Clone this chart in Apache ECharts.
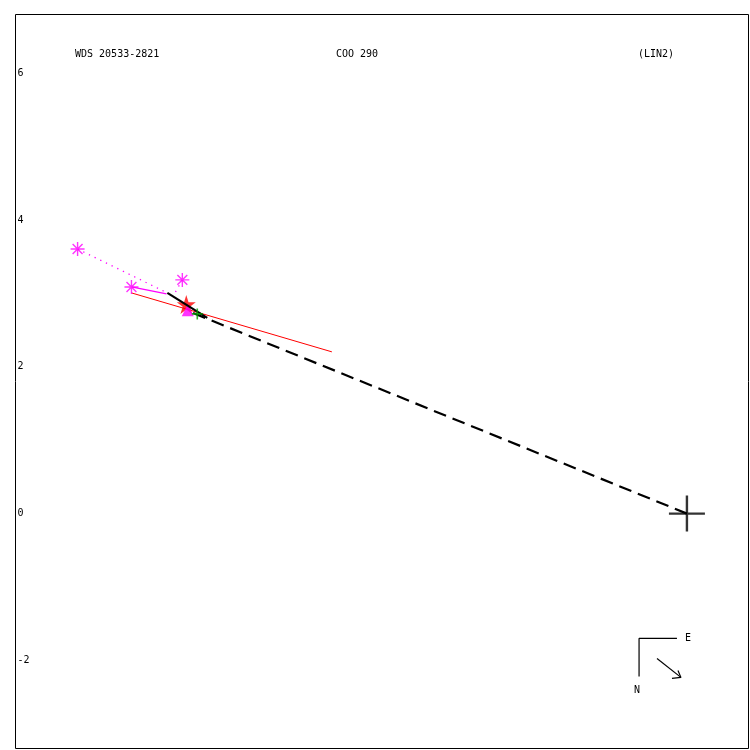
<!DOCTYPE html>
<html>
<head>
<meta charset="utf-8">
<script src="https://cdn.jsdelivr.net/npm/echarts@6/dist/echarts.min.js"></script>
<style>html,body{margin:0;padding:0;background:#fff}#c{width:750px;height:750px}</style>
</head>
<body>
<div id="c"></div>
<script>
// ---- data (arcsec offsets; primary at origin) ----
const titleTexts = ['WDS 20533-2821', 'COO 290', '(LIN2)'];
const yTickValues = [-2, 0, 2, 4, 6];
const measuredX = [-8.313, -7.578, -6.884];
const measuredY = [3.605, 3.088, 3.184];
const predictedX = [-7.088, -7.100, -7.007];
const predictedY = [3.007, 2.993, 2.966];
const residualTypes = ['dotted', 'solid', 'dotted'];
const fitLineX = [-7.578, -4.844];
const fitLineY = [3.007, 2.204];
const orbitX = [-7.088, -6.544];
const orbitY = [3.007, 2.667];
const nodeLineX = [0, -6.776];
const nodeLineY = [0, 2.748];
const primaryPos = [0, 0];
const redStarPos = [-6.830, 2.850];
const magentaTriPos = [-6.810, 2.770];
const greenPlusPos = [-6.680, 2.721];
const compassArmsX = [-0.136, -0.653, -0.653];
const compassArmsY = [-1.701, -1.701, -2.218];
const compassArrowX = [-0.408, -0.082];
const compassArrowY = [-1.973, -2.231];
const arrowHeadX = [-0.204, -0.082, -0.122];
const arrowHeadY = [-2.245, -2.231, -2.136];

const zip = (xs, ys) => xs.map((x, i) => [x, ys[i]]);
const FONT = 'DejaVu Sans Mono';
const txt = {fontSize: 10, fontFamily: FONT, fontWeight: 'normal', color: '#000'};

const asterisk = 'path://M0,6.5L13,6.5M6.5,0L6.5,13M1.9,1.9L11.1,11.1M11.1,1.9L1.9,11.1';
const plus = 'path://M0,5L10,5M5,0L5,10';
const bigPlus = 'path://M0,18L36,18M18,0L18,36';
const star = 'path://M50,0L61.17,34.63L97.55,34.55L68.07,55.87L79.39,90.45L50,69L20.61,90.45L31.93,55.87L2.45,34.55L38.83,34.63Z';

const lineSeries = (data, color, width, type, z) => ({
  type: 'line', data, showSymbol: false, symbol: 'none', silent: true, animation: false,
  lineStyle: {color, width, type}, z: z || 2
});

const series = [];
series.push(lineSeries(zip(fitLineX, fitLineY), '#ff0000', 1, 'solid', 2));
measuredX.forEach((x, i) => {
  series.push(lineSeries([[x, measuredY[i]], [predictedX[i], predictedY[i]]], '#ff00ff', 1.3,
    residualTypes[i] === 'dotted' ? [1.3, 5] : 'solid', 3));
});
series.push({type: 'scatter', data: zip(measuredX, measuredY), symbol: asterisk, symbolSize: 14,
  itemStyle: {color: 'rgba(0,0,0,0)', borderColor: '#ff00ff', borderWidth: 1.4}, z: 4, animation: false});
series.push({type: 'scatter', data: [redStarPos], symbol: star, symbolSize: 19,
  itemStyle: {color: '#ff0000'}, z: 5, animation: false});
series.push({type: 'scatter', data: [magentaTriPos], symbol: 'triangle', symbolSize: 12,
  itemStyle: {color: '#ff00ff'}, z: 6, animation: false});
series.push(lineSeries(zip(orbitX, orbitY), '#000', 2.2, 'solid', 7));
series.push(lineSeries(zip(nodeLineX, nodeLineY), '#000', 2.2, [13, 7], 7));
series.push({type: 'scatter', data: [greenPlusPos], symbol: plus, symbolSize: 11,
  itemStyle: {color: 'rgba(0,0,0,0)', borderColor: '#00a000', borderWidth: 1.6}, z: 8, animation: false});
series.push({type: 'scatter', data: [primaryPos], symbol: bigPlus, symbolSize: 36,
  itemStyle: {color: 'rgba(0,0,0,0)', borderColor: '#000', borderWidth: 2.4}, z: 8, animation: false});
series.push(lineSeries(zip(compassArmsX, compassArmsY), '#000', 1.2, 'solid', 8));
series.push(lineSeries(zip(compassArrowX, compassArrowY), '#000', 1.2, 'solid', 8));
series.push(lineSeries(zip(arrowHeadX, arrowHeadY), '#000', 1.2, 'solid', 8));

const chart = echarts.init(document.getElementById('c'), null, {renderer: 'canvas'});
chart.setOption({
  animation: false,
  backgroundColor: '#fff',
  title: [
    {text: titleTexts[0], left: 75, top: 49, padding: 0, textStyle: txt},
    {text: titleTexts[1], left: 336, top: 49, padding: 0, textStyle: txt},
    {text: titleTexts[2], left: 638, top: 49, padding: 0, textStyle: txt}
  ],
  grid: {left: 15.5, top: 14.5, width: 733, height: 734, show: true, borderColor: '#000', borderWidth: 1, backgroundColor: 'transparent'},
  xAxis: {type: 'value', min: -9.16, max: 0.84, axisLine: {show: false}, axisTick: {show: false},
    axisLabel: {show: false}, splitLine: {show: false}},
  yAxis: {type: 'value', min: -3.2, max: 6.8, axisLine: {show: false}, axisTick: {show: false},
    splitLine: {show: false},
    axisLabel: {inside: true, margin: 2, padding: [3, 0, 0, 0], customValues: yTickValues, fontSize: 10, fontFamily: FONT, color: '#000'}},
  graphic: [
    {type: 'text', left: 685, top: 633, style: {text: 'E', font: '10px ' + FONT, fill: '#000'}},
    {type: 'text', left: 634, top: 685, style: {text: 'N', font: '10px ' + FONT, fill: '#000'}}
  ],
  series
});
</script>
</body>
</html>
